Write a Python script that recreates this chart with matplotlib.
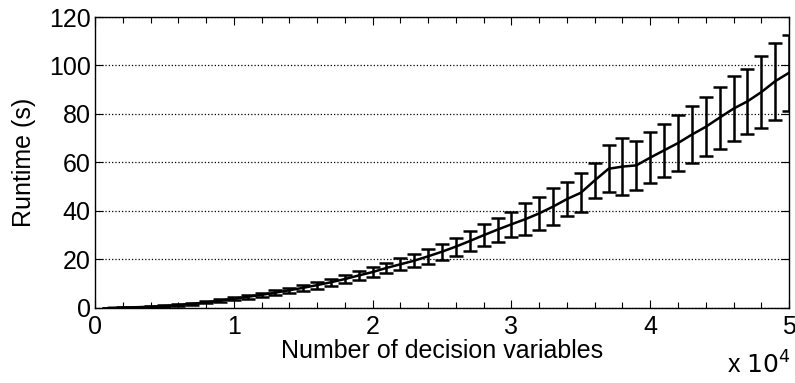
import numpy as np
import matplotlib
matplotlib.use('Agg')
import matplotlib.pyplot as plt
from matplotlib.ticker import MultipleLocator, FuncFormatter

# number of decision variables (x), mean runtime and error half-width (s)
n_vars = np.arange(1000, 50001, 1000)
runtime = [0.05, 0.15, 0.3, 0.5, 0.8, 1.2, 1.7, 2.3, 3.0, 3.8,
           4.6, 5.4, 6.3, 7.3, 8.3, 9.4, 10.6, 11.9, 13.4, 14.8,
           16.5, 18.0, 19.5, 21.3, 23.2, 25.3, 27.6, 30.0, 32.3, 34.5,
           36.6, 39.0, 41.8, 44.9, 47.5, 52.6, 57.4, 58.3, 58.8, 62.0,
           65.0, 68.0, 71.5, 74.7, 78.5, 82.2, 85.2, 89.0, 93.5, 97.0]
err = [0.05, 0.1, 0.15, 0.2, 0.25, 0.3, 0.35, 0.45, 0.55, 0.7,
       0.8, 0.9, 1.0, 1.1, 1.3, 1.4, 1.5, 1.7, 1.8, 2.0,
       2.2, 2.4, 2.7, 3.0, 3.3, 3.7, 4.1, 4.5, 4.9, 5.2,
       6.5, 6.9, 7.6, 7.1, 8.0, 7.2, 9.6, 11.7, 10.0, 10.6,
       11.0, 11.5, 11.8, 12.2, 12.8, 13.5, 13.5, 14.9, 15.9, 15.6]

plt.rcParams['font.family'] = ['Liberation Sans', 'DejaVu Sans']

fig = plt.figure(figsize=(7.95, 3.83), dpi=100)
ax = fig.add_axes([0.1195, 0.196, 0.873, 0.7596])

ax.errorbar(n_vars, runtime, yerr=err, color='black', linewidth=1.8,
            elinewidth=1.8, capsize=5, capthick=1.8)

ax.set_xlim(0, 50000)
ax.set_ylim(0, 120)
ax.xaxis.set_major_locator(MultipleLocator(10000))
ax.xaxis.set_minor_locator(MultipleLocator(2000))
ax.xaxis.set_major_formatter(FuncFormatter(lambda v, p: f'{v / 1e4:g}'))
ax.yaxis.set_major_locator(MultipleLocator(20))
ax.tick_params(which='both', direction='in', top=True, right=True,
               labelsize=18, width=0.8)
ax.tick_params(axis='x', pad=5)
ax.tick_params(axis='y', pad=3)
ax.tick_params(which='major', length=6)
ax.tick_params(which='minor', length=4)
ax.grid(axis='y', linestyle=':', color='black', linewidth=0.9)
for s in ax.spines.values():
    s.set_linewidth(1.0)

ax.set_xlabel('Number of decision variables', fontsize=18, labelpad=0)
ax.set_ylabel('Runtime (s)', fontsize=18, labelpad=9)
fig.text(0.995, 0.012, r'x $10^4$', fontsize=18, ha='right', va='bottom')

fig.savefig('out.png', dpi=100)
